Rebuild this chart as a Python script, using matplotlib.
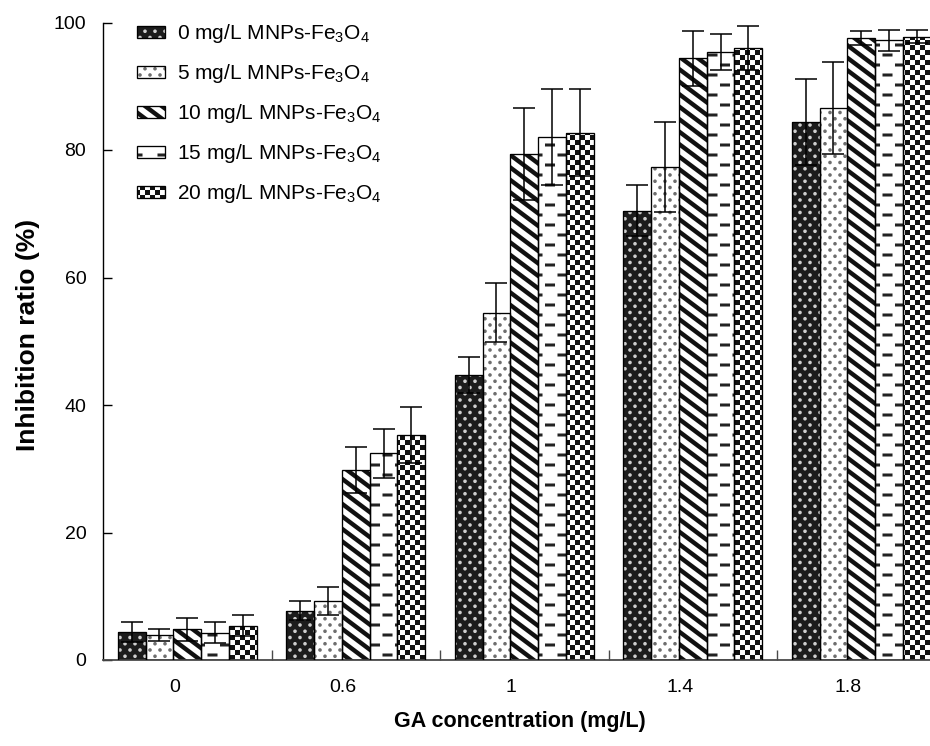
import numpy as np
import matplotlib
matplotlib.use('Agg')
import matplotlib.pyplot as plt
import matplotlib.hatch as mhatch
from matplotlib.path import Path
from matplotlib.legend_handler import HandlerTuple

# ---------------- data ----------------
categories = ['0', '0.6', '1', '1.4', '1.8']
series_labels = [r'0 mg/L MNPs-Fe$_3$O$_4$', r'5 mg/L MNPs-Fe$_3$O$_4$',
                 r'10 mg/L MNPs-Fe$_3$O$_4$', r'15 mg/L MNPs-Fe$_3$O$_4$',
                 r'20 mg/L MNPs-Fe$_3$O$_4$']
val_0mg = [4.4, 7.7, 44.7, 70.5, 84.4]
err_0mg = [1.6, 1.5, 2.8, 4.0, 6.7]
val_5mg = [3.9, 9.3, 54.5, 77.3, 86.6]
err_5mg = [0.9, 2.2, 4.6, 7.1, 7.2]
val_10mg = [4.8, 29.8, 79.4, 94.4, 97.6]
err_10mg = [1.8, 3.6, 7.2, 4.3, 1.1]
val_15mg = [4.3, 32.4, 82.0, 95.4, 97.2]
err_15mg = [1.7, 3.8, 7.5, 2.8, 1.6]
val_20mg = [5.4, 35.3, 82.7, 96.0, 97.8]
err_20mg = [1.6, 4.4, 6.8, 3.4, 1.0]
x_label = 'GA concentration (mg/L)'
y_label = 'Inhibition ratio (%)'
y_ticks = [0, 20, 40, 60, 80, 100]

values = [val_0mg, val_5mg, val_10mg, val_15mg, val_20mg]
errors = [err_0mg, err_5mg, err_10mg, err_15mg, err_20mg]

# ---------------- custom hatch textures ----------------
MOVETO, LINETO, CLOSE = Path.MOVETO, Path.LINETO, Path.CLOSEPOLY


def _poly(pts):
    pts = np.asarray(pts, float)
    v = np.vstack([pts, pts[:1]])
    c = np.full(len(v), LINETO, dtype=Path.code_type)
    c[0] = MOVETO
    c[-1] = CLOSE
    return v, c


def _join(parts):
    if not parts:
        return np.empty((0, 2)), np.empty(0, Path.code_type)
    return (np.vstack([p[0] for p in parts]),
            np.concatenate([p[1] for p in parts]).astype(Path.code_type))


def build_dots():
    circ = Path.unit_circle()
    r = 0.018
    parts = []
    nrows = 16
    for k in range(nrows + 1):
        y = k / nrows
        xs = np.arange(0, 1.0001, 0.1) + (0.05 if k % 2 else 0.0)
        for xx in xs:
            parts.append((circ.vertices * r + [xx, y], circ.codes.copy()))
    return _join(parts)


def build_stripes():
    p, w, m = 0.125, 0.055, 0.75
    parts = []
    for k in range(-2, 17):
        c = k * p
        x0, x1 = -0.05, 1.05
        parts.append(_poly([(x0, c - m * x0), (x1, c - m * x1),
                            (x1, c - m * x1 + w), (x0, c - m * x0 + w)]))
    return _join(parts)


def build_dashes():
    parts = []
    L, t = 0.1, 0.03
    for k in range(10):
        yc = 0.05 + k * 0.1
        centers = (0.125 + np.arange(4) * 0.25) if k % 2 == 0 else np.arange(5) * 0.25
        for xc in centers:
            parts.append(_poly([(xc - L / 2, yc - t / 2), (xc + L / 2, yc - t / 2),
                                (xc + L / 2, yc + t / 2), (xc - L / 2, yc + t / 2)]))
    return _join(parts)


def build_checker():
    parts = []
    n, s = 20, 0.05
    for i in range(n):
        for j in range(n):
            if (i + j) % 2 == 0:
                parts.append(_poly([(i * s, j * s), ((i + 1) * s, j * s),
                                    ((i + 1) * s, (j + 1) * s), (i * s, (j + 1) * s)]))
    return _join(parts)


def make_hatch_type(char, builder):
    cache = {}

    class _Hatch(mhatch.HatchPatternBase):
        def __init__(self, hatch, density):
            if hatch is not None and char in hatch:
                if 'v' not in cache:
                    cache['v'] = builder()
                self._v, self._c = cache['v']
            else:
                self._v, self._c = np.empty((0, 2)), np.empty(0, Path.code_type)
            self.num_vertices = len(self._v)

        def set_vertices_and_codes(self, vertices, codes):
            vertices[:] = self._v
            codes[:] = self._c

    return _Hatch


mhatch._hatch_types = [make_hatch_type('.', build_dots),
                       make_hatch_type('\\', build_stripes),
                       make_hatch_type('-', build_dashes),
                       make_hatch_type('x', build_checker)]

plt.rcParams['hatch.linewidth'] = 0.01
plt.rcParams['font.family'] = ['Liberation Sans', 'DejaVu Sans']
plt.rcParams['mathtext.default'] = 'regular'

# styles: (face, hatch colour, hatch)
styles = [('#1c1c1c', '#cfcfcf', '.'),
          ('white', '#6e6e6e', '.'),
          ('white', '#111111', '\\'),
          ('white', '#222222', '-'),
          ('white', '#111111', 'x')]

# ---------------- figure ----------------
W, H = 930, 746
fig = plt.figure(figsize=(W / 100, H / 100), dpi=100)
ax_left, ax_bottom, ax_right, ax_top = 103, 660, 945.5, 22.5
ax = fig.add_axes([ax_left / W, 1 - ax_bottom / H,
                   (ax_right - ax_left) / W, (ax_bottom - ax_top) / H])

x = np.arange(len(categories))
width = 0.165
handles = []
for i, (vals, errs, (face, hc, hatch)) in enumerate(zip(values, errors, styles)):
    pos = x + (i - 2) * width
    fill = ax.bar(pos, vals, width, color=face, edgecolor=hc, linewidth=0,
                  hatch=hatch, zorder=2)
    outline = ax.bar(pos, vals, width, facecolor='none', edgecolor='black',
                     linewidth=0.95, zorder=3)
    ax.errorbar(pos, vals, yerr=errs, fmt='none', ecolor='black',
                elinewidth=1.1, capsize=8.2, capthick=1.1, zorder=4)
    handles.append((fill, outline))

ax.set_xlim(-0.5, len(categories) - 0.5)
ax.set_ylim(0, 100)

for s in ('top', 'right'):
    ax.spines[s].set_visible(False)
ax.spines['left'].set_linewidth(1.0)
ax.spines['left'].set_color('black')
ax.spines['bottom'].set_linewidth(1.3)
ax.spines['bottom'].set_color('#4a4a4a')

ax.set_yticks(y_ticks)
ax.tick_params(axis='y', direction='in', length=6.5, width=1.0, pad=12,
               labelsize=14, colors='black')
ax.set_xticks(x - 0.077)
ax.set_xticklabels(categories)
ax.tick_params(axis='x', which='major', length=0, pad=14, labelsize=14)
ax.set_xticks(x[:-1] + 0.5, minor=True)
ax.tick_params(axis='x', which='minor', direction='in', length=7, width=1.0,
               color='#4a4a4a')

ax.set_ylabel(y_label, fontsize=19, fontweight='bold', va='center')
ax.yaxis.set_label_coords((28 - ax_left) / (ax_right - ax_left),
                          (ax_bottom - 335) / (ax_bottom - ax_top))
ax.set_xlabel(x_label, fontsize=15.5, fontweight='bold', va='center')
ax.xaxis.set_label_coords((520 - ax_left) / (ax_right - ax_left),
                          (ax_bottom - 722) / (ax_bottom - ax_top))

ax.legend(handles, series_labels, loc='upper left',
          bbox_to_anchor=(137 / W, 1 - 22 / H), bbox_transform=fig.transFigure,
          frameon=False, fontsize=15, handlelength=1.35, handleheight=0.5,
          handletextpad=0.55, labelspacing=0.82, borderpad=0, borderaxespad=0,
          handler_map={tuple: HandlerTuple(ndivide=1, pad=0)})

fig.savefig('out.png', dpi=100)
